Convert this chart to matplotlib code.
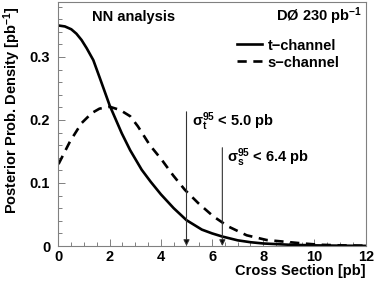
import matplotlib
matplotlib.use("Agg")
import matplotlib.pyplot as plt
from matplotlib.ticker import MultipleLocator

plt.rcParams["font.family"] = ["Liberation Sans", "DejaVu Sans"]
plt.rcParams["font.weight"] = "bold"
plt.rcParams["mathtext.fontset"] = "custom"
plt.rcParams["mathtext.rm"] = "Liberation Sans"
plt.rcParams["mathtext.bf"] = "Liberation Sans:bold"
plt.rcParams["mathtext.it"] = "Liberation Sans:italic"

# posterior densities
t_x = [0, 0.25, 0.5, 0.7, 0.9, 1.1, 1.36, 1.62, 2.0, 2.47, 2.8, 3.25, 3.6,
       4.0, 4.5, 5.0, 5.6, 6.0, 6.4, 7.0, 7.5, 8.0, 9.0, 10.0, 11.0, 12.0]
t_y = [0.350, 0.3485, 0.344, 0.337, 0.327, 0.314, 0.295, 0.266, 0.223,
       0.179, 0.152, 0.121, 0.102, 0.082, 0.060, 0.041, 0.026, 0.020, 0.015,
       0.009, 0.006, 0.004, 0.002, 0.001, 0.0005, 0.0002]

s_x = [0, 0.45, 0.9, 1.3, 1.6, 2.0, 2.4, 2.8, 3.1, 3.57, 4.03, 4.48, 4.94,
       5.46, 6.05, 6.63, 7.35, 8.13, 8.78, 9.56, 10.2, 11.0, 12.0]
s_y = [0.130, 0.166, 0.195, 0.211, 0.218, 0.221, 0.216, 0.206, 0.190, 0.160,
       0.137, 0.112, 0.089, 0.068, 0.047, 0.031, 0.017, 0.0095, 0.007, 0.004,
       0.002, 0.001, 0.0005]

limits = [5.0, 6.4]
limit_tops = [0.213, 0.156]
limit_labels = ["σ" + r"$_{\mathbf{t}}^{\mathbf{95}}$" + " < 5.0 pb",
                "σ" + r"$_{\mathbf{s}}^{\mathbf{95}}$" + " < 6.4 pb"]

fs = 10.5
frame = "#808080"

fig = plt.figure(figsize=(3.74, 2.82), dpi=100)
ax = fig.add_axes([58.5 / 374, 36 / 282, 307.2 / 374, 244 / 282])

ax.plot(t_x, t_y, color="black", lw=1.9, label="t−channel")
ax.plot(s_x, s_y, color="black", lw=1.9, dashes=(3.5, 2.5), label="s−channel")

for xl, top, lab in zip(limits, limit_tops, limit_labels):
    ax.annotate("", xy=(xl, 0.0), xytext=(xl, top),
                arrowprops=dict(arrowstyle="-|>", color="#333333", lw=0.8,
                                mutation_scale=9, shrinkA=0, shrinkB=0,
                                fc="black"))
    ax.text(xl + 0.2, top - 0.016, lab, fontsize=fs, fontweight="bold",
            ha="left", va="center")

ax.text(1.3, 0.364, "NN analysis", fontsize=fs, fontweight="bold",
        ha="left", va="center")
ax.text(11.85, 0.364, r"DØ 230 pb$^{\mathbf{-1}}$", fontsize=fs,
        fontweight="bold", ha="right", va="center")

ax.legend(loc="upper left", bbox_to_anchor=(0.581, 0.85), frameon=False,
          fontsize=fs, handlelength=1.7, handletextpad=0.4,
          labelspacing=0.2, borderaxespad=0, borderpad=0)

ax.set_xlim(0, 12)
ax.set_ylim(0, 0.3873)
ax.xaxis.set_major_locator(MultipleLocator(2))
ax.xaxis.set_minor_locator(MultipleLocator(0.5))
ax.yaxis.set_minor_locator(MultipleLocator(0.02))
ax.set_yticks([0, 0.1, 0.2, 0.3])
ax.set_yticklabels(["0", "0.1", "0.2", "0.3"])

ax.tick_params(which="both", direction="in", color=frame, width=0.7,
               labelsize=fs, top=False, right=False)
ax.tick_params(which="major", length=5)
ax.tick_params(which="minor", length=3)
ax.tick_params(axis="x", pad=3)
ax.tick_params(axis="y", pad=6)
for lab in ax.get_xticklabels() + ax.get_yticklabels():
    lab.set_fontweight("bold")
for sp in ax.spines.values():
    sp.set_color(frame)
    sp.set_linewidth(0.8)

fig.text(366 / 374, 1 - 271.5 / 282, "Cross Section [pb]", fontsize=fs,
         fontweight="bold", ha="right", va="center")
fig.text(12 / 374, 1 - 6 / 282, r"Posterior Prob. Density [pb$^{\mathbf{-1}}$]",
         fontsize=fs, fontweight="bold", rotation=90, ha="center", va="top")

fig.savefig("out.png", dpi=100)
